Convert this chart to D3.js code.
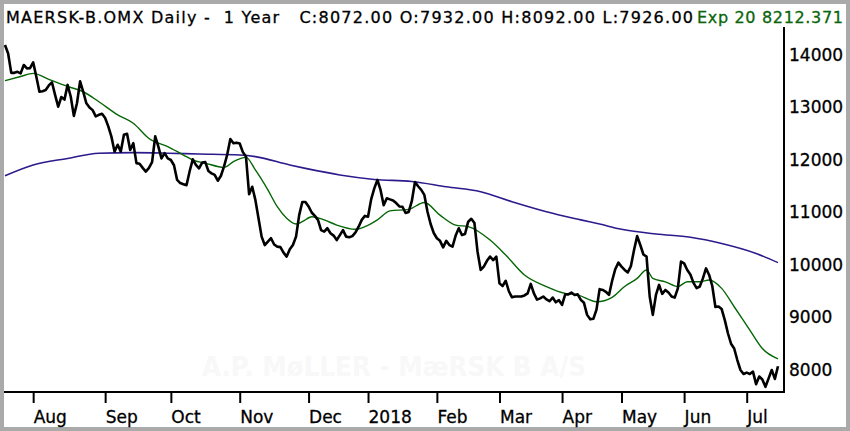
<!DOCTYPE html>
<html>
<head>
<meta charset="utf-8">
<script src="https://d3js.org/d3.v7.min.js"></script>
<style>
body {
  margin: 0;
  background: #ffffff;
}
svg text {
  font-family: "DejaVu Sans", Verdana, sans-serif;
}
</style>
</head>
<body>
<div id="chart"></div>
<script>
var WIDTH = 850;
var HEIGHT = 431;

// daily closes, one per trading session from 19 Jul 2017
var closes = [
  14190, 14030, 13660, 13660, 13680, 13650, 13810, 13745, 13750, 13860,
  13590, 13300, 13310, 13333, 13420, 13480, 13240, 13015, 13200, 13150,
  13430, 13210, 12840, 13080, 13500, 13300, 13080, 13000, 12950, 12830,
  12860, 12880, 12800, 12640, 12445, 12160, 12290, 12160, 12480, 12500,
  12190, 12320, 11940, 11930, 11850, 11780, 11850, 11960, 12450, 12255,
  12030, 12130, 12030, 12000, 11900, 11620, 11560, 11540, 11520, 11785,
  12013, 11905, 11840, 11950, 11960, 11790, 11745, 11715, 11605, 11700,
  11880, 12100, 12400, 12320, 12330, 12315, 12150, 12065, 11350, 11490,
  11240, 10890, 10540, 10380, 10445, 10510, 10390, 10350, 10340, 10235,
  10160, 10300, 10380, 10540, 10950, 11200, 11200, 11115, 11000, 10935,
  10860, 10665, 10635, 10700, 10605, 10560, 10475, 10570, 10665, 10540,
  10530, 10550, 10620, 10730, 10860, 10935, 10920, 11250, 11460, 11620,
  11430, 11140, 11270, 11250, 11230, 11180, 11115, 11110, 10990, 11010,
  11220, 11580, 11500, 11430, 11335, 11015, 10780, 10610, 10510, 10460,
  10335, 10460, 10380, 10350, 10560, 10700, 10570, 10590, 10825, 10880,
  10800, 10250, 9905, 9970, 10080, 10160, 10095, 10160, 9650, 9600,
  9700, 9500, 9385, 9400, 9400, 9400, 9420, 9460, 9640, 9460,
  9340, 9365, 9400, 9345, 9310, 9380, 9290, 9330, 9240, 9440,
  9440, 9475, 9430, 9440, 9335, 9280, 9050, 8965, 8975, 9150,
  9540, 9525, 9490, 9430, 9700, 9920, 10045, 9970, 9905, 9860,
  9980, 10285, 10550, 10380, 10200, 10160, 9400, 9050, 9430, 9620,
  9450, 9525, 9475, 9400, 9380, 9555, 10065, 10030, 9905, 9820,
  9660, 9560, 9590, 9745, 9935, 9810, 9600, 9200, 9210, 9160,
  8950, 8700, 8500, 8410, 8190, 8000, 7925, 7950, 7925, 7970,
  7730, 7875, 7820, 7680, 7840, 8000, 7830, 8072
];
var firstSession = "2017-07-19";
// Copenhagen exchange closed on these weekdays
var holidays = ["2017-12-25", "2017-12-26", "2018-01-01", "2018-03-29", "2018-03-30",
  "2018-04-02", "2018-04-27", "2018-05-10", "2018-05-11", "2018-05-21", "2018-06-05"];
var monthLabels = ["Aug", "Sep", "Oct", "Nov", "Dec", "2018", "Feb", "Mar", "Apr", "May", "Jun", "Jul"];
var priceTicks = [8000, 9000, 10000, 11000, 12000, 13000, 14000];

// Exp 20 read at sessions
var emaSession = [0, 5, 9, 14, 20, 25, 30, 36, 41, 46, 52, 57, 60, 64, 70, 73, 77, 80, 84, 87,
  90, 93, 95, 98, 102, 106, 112, 115, 119, 123, 129, 134, 139, 144, 148, 155, 160, 166, 173, 179,
  183, 189, 194, 198, 202, 205, 207, 211, 215, 218, 222, 225, 229, 233, 238, 242, 247];
var emaValue = [13510, 13590, 13650, 13535, 13400, 13300, 13110, 12860, 12700, 12410, 12255, 12095, 12000, 11940, 11860, 11970, 12050, 11810, 11430, 11110,
  10890, 10780, 10825, 10920, 10860, 10760, 10680, 10730, 10860, 11030, 11060, 11190, 10950, 10760, 10730, 10475, 10190, 9810, 9590, 9460,
  9430, 9300, 9385, 9590, 9745, 9905, 9745, 9680, 9590, 9680, 9680, 9715, 9555, 9205, 8760, 8410, 8212];

// long moving average read at sessions
var longSession = [0, 9, 20, 30, 41, 52, 62, 75, 80, 91, 96, 107, 118, 130, 141, 152, 162, 173, 184, 190, 197, 208, 219, 229, 240, 247];
var longValue = [11700, 11905, 12030, 12130, 12140, 12130, 12115, 12095, 12065, 11905, 11840, 11715, 11630, 11590, 11490, 11395, 11205, 11015, 10860, 10780, 10680, 10590, 10530, 10410, 10220, 10045];

var headerText = "MAERSK-B.OMX Daily -  1 Year   C:8072.00 O:7932.00 H:8092.00 L:7926.00";
var emaText = "Exp 20 8212.371";
var watermarkText = "A.P. MøLLER - MæRSK B A/S";

// trading calendar -> first session of each month
var parseDay = d3.timeParse("%Y-%m-%d");
var fmtDay = d3.timeFormat("%Y-%m-%d");
var sessions = [];
var day = parseDay(firstSession);
while (sessions.length < closes.length) {
  var wd = day.getDay();
  if (wd !== 0 && wd !== 6 && holidays.indexOf(fmtDay(day)) < 0) sessions.push(new Date(day));
  day = d3.timeDay.offset(day, 1);
}
var monthStarts = [];
sessions.forEach(function(d, i) {
  if (i > 0 && d.getMonth() !== sessions[i - 1].getMonth()) monthStarts.push(i);
});

var svg = d3.select("#chart").append("svg")
  .attr("width", WIDTH)
  .attr("height", HEIGHT);

svg.append("rect")
  .attr("x", 2).attr("y", 2)
  .attr("width", WIDTH - 4).attr("height", HEIGHT - 4)
  .attr("fill", "#ffffff")
  .attr("stroke", "#aaaaaa")
  .attr("stroke-width", 4);

var x = d3.scaleLinear().domain([0, closes.length - 1]).range([5, 778]);
var y = d3.scaleLinear().domain([8000, 14000]).range([370, 55]);

var plotLeft = 4, plotRight = 784, plotTop = 27, plotBottom = 392;

svg.append("text")
  .attr("x", (plotLeft + plotRight) / 2)
  .attr("y", 376)
  .attr("text-anchor", "middle")
  .attr("font-size", 27)
  .attr("font-weight", "bold")
  .attr("textLength", 384)
  .attr("lengthAdjust", "spacingAndGlyphs")
  .attr("fill", "#f8f8f8")
  .text(watermarkText);

var curveLine = d3.line()
  .x(function(d) { return x(d[0]); })
  .y(function(d) { return y(d[1]); })
  .curve(d3.curveMonotoneX);

svg.append("path")
  .datum(d3.zip(longSession, longValue))
  .attr("d", curveLine)
  .attr("fill", "none")
  .attr("stroke", "#2e1a8c")
  .attr("stroke-width", 1.6);

svg.append("path")
  .datum(d3.zip(emaSession, emaValue))
  .attr("d", curveLine)
  .attr("fill", "none")
  .attr("stroke", "#056605")
  .attr("stroke-width", 1.4);

var closeLine = d3.line()
  .x(function(d, i) { return x(i); })
  .y(function(d) { return y(d); });

svg.append("path")
  .datum(closes)
  .attr("d", closeLine)
  .attr("fill", "none")
  .attr("stroke", "#000000")
  .attr("stroke-width", 2.6)
  .attr("stroke-linejoin", "round");

// frame lines of the plot
svg.append("line")
  .attr("x1", plotLeft).attr("x2", plotRight + 1)
  .attr("y1", plotBottom).attr("y2", plotBottom)
  .attr("stroke", "#000").attr("stroke-width", 2);
svg.append("line")
  .attr("x1", plotRight).attr("x2", plotRight)
  .attr("y1", plotTop).attr("y2", plotBottom)
  .attr("stroke", "#000").attr("stroke-width", 2);

var xAxis = svg.append("g")
  .attr("transform", "translate(0," + (plotBottom + 1) + ")")
  .call(d3.axisBottom(x)
    .tickValues(monthStarts)
    .tickFormat(function(d, i) { return monthLabels[i]; })
    .tickSize(10)
    .tickPadding(8));
xAxis.select(".domain").remove();
xAxis.selectAll(".tick line").attr("stroke", "#000").attr("stroke-width", 2);
xAxis.selectAll(".tick text")
  .attr("text-anchor", "start")
  .attr("x", 0)
  .attr("font-size", 17)
  .attr("font-family", "DejaVu Sans, sans-serif")
  .attr("fill", "#000")
  .attr("stroke", "#000")
  .attr("stroke-width", 0.3);

var yAxis = svg.append("g")
  .attr("transform", "translate(" + plotRight + ",0)")
  .call(d3.axisRight(y)
    .tickValues(priceTicks)
    .tickFormat(d3.format("d"))
    .tickSize(0)
    .tickPadding(5));
yAxis.select(".domain").remove();
yAxis.selectAll(".tick text")
  .attr("font-size", 17)
  .attr("font-family", "DejaVu Sans, sans-serif")
  .attr("fill", "#000")
  .attr("stroke", "#000")
  .attr("stroke-width", 0.3);

svg.append("text")
  .attr("x", 6)
  .attr("y", 23)
  .attr("font-size", 16)
  .attr("textLength", 687)
  .attr("lengthAdjust", "spacing")
  .style("white-space", "pre")
  .attr("fill", "#000")
  .attr("stroke", "#000")
  .attr("stroke-width", 0.3)
  .text(headerText);

svg.append("text")
  .attr("x", 697)
  .attr("y", 23)
  .attr("font-size", 16)
  .attr("textLength", 146)
  .attr("lengthAdjust", "spacing")
  .attr("fill", "#0b650b")
  .attr("stroke", "#0b650b")
  .attr("stroke-width", 0.3)
  .text(emaText);
</script>
</body>
</html>
